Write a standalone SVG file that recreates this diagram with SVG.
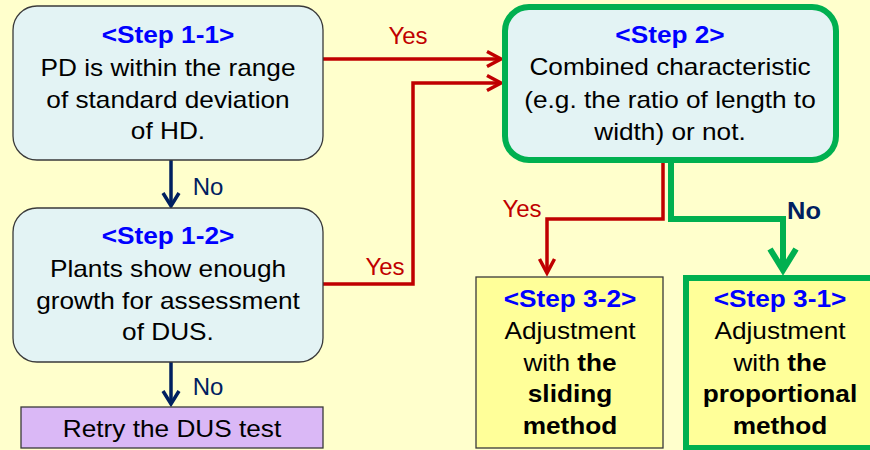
<svg xmlns="http://www.w3.org/2000/svg" width="870" height="450" viewBox="0 0 870 450">
  <defs>
    <style>
      .txt { font-family: "Liberation Sans", Arial, sans-serif; font-size: 23px; text-anchor: middle; fill: #000; }
      .step { font-weight: bold; fill: #0000FF; }
      .lbl { font-family: "Liberation Sans", Arial, sans-serif; font-size: 24px; text-anchor: middle; }
      .red { fill: #C00000; }
      .navy { fill: #002060; }
      .round { fill: #E3F3F4; stroke: #3A3A3A; stroke-width: 1.3; }
      .sq { fill: #FFFF99; stroke: #3A3A3A; stroke-width: 1.3; }
      .hi { stroke: #00B050; stroke-width: 6; }
      .c-red { fill: none; stroke: #C00000; stroke-width: 3.5; stroke-linejoin: miter; }
      .c-navy { fill: none; stroke: #002060; stroke-width: 3.5; }
      .c-green { fill: none; stroke: #00B050; stroke-width: 6; stroke-linejoin: miter; }
    </style>
    <marker id="ah-red" markerUnits="userSpaceOnUse" orient="auto" overflow="visible" refX="0" refY="0" markerWidth="20" markerHeight="20">
      <path d="M-14,-7.5 L0,0 L-14,7.5" fill="none" stroke="#C00000" stroke-width="3.5"/>
    </marker>
    <marker id="ah-navy" markerUnits="userSpaceOnUse" orient="auto" overflow="visible" refX="0" refY="0" markerWidth="20" markerHeight="20">
      <path d="M-13,-8 L0,0 L-13,8" fill="none" stroke="#002060" stroke-width="3.5"/>
    </marker>
    <marker id="ah-green" markerUnits="userSpaceOnUse" orient="auto" overflow="visible" refX="0" refY="0" markerWidth="30" markerHeight="30">
      <path d="M-21,-13 L0,0 L-21,13" fill="none" stroke="#00B050" stroke-width="6"/>
    </marker>
  </defs>

  <!-- slide background -->
  <rect x="0" y="0" width="870" height="450" fill="#FFFFCC"/>

  <!-- connectors -->
  <g id="connectors">
    <path class="c-navy" d="M171,160 V206" marker-end="url(#ah-navy)"/>
    <path class="c-navy" d="M171,362 V404" marker-end="url(#ah-navy)"/>
    <path class="c-red" d="M323,59 H501" marker-end="url(#ah-red)"/>
    <path class="c-red" d="M323,284 H413 V83 H501" marker-end="url(#ah-red)"/>
    <path class="c-red" d="M663,160 V219 H547 V273" marker-end="url(#ah-red)"/>
    <path class="c-green" d="M671,160 V219 H783 V270" marker-end="url(#ah-green)"/>

    <text class="lbl navy" x="208" y="195">No</text>
    <text class="lbl navy" x="208" y="395">No</text>
    <text class="lbl red" x="408" y="44">Yes</text>
    <text class="lbl red" x="385" y="275">Yes</text>
    <text class="lbl red" x="522" y="217">Yes</text>
    <g transform="translate(804,0) scale(1.06,1)"><text class="lbl navy" x="0" y="219" font-weight="bold">No</text></g>
  </g>

  <!-- Step 1-1 -->
  <g id="step1-1">
    <rect class="round" x="13" y="6" width="310" height="154" rx="24"/>
    <g transform="translate(168,0) scale(1.14,1)">
      <text class="txt step" x="0" y="43">&lt;Step 1-1&gt;</text>
      <text class="txt" x="0" y="76">PD is within the range</text>
      <text class="txt" x="0" y="108">of standard deviation</text>
      <text class="txt" x="0" y="139">of HD.</text>
    </g>
  </g>

  <!-- Step 1-2 -->
  <g id="step1-2">
    <rect class="round" x="13" y="208" width="310" height="154" rx="24"/>
    <g transform="translate(168,0) scale(1.14,1)">
      <text class="txt step" x="0" y="244">&lt;Step 1-2&gt;</text>
      <text class="txt" x="0" y="277">Plants show enough</text>
      <text class="txt" x="0" y="309">growth for assessment</text>
      <text class="txt" x="0" y="340">of DUS.</text>
    </g>
  </g>

  <!-- Retry -->
  <g id="retry">
    <rect x="21" y="407" width="302" height="41" fill="#DAB8F6" stroke="#3A3A3A" stroke-width="1.3"/>
    <g transform="translate(172,0) scale(1.14,1)">
      <text class="txt" x="0" y="437">Retry the DUS test</text>
    </g>
  </g>

  <!-- Step 2 -->
  <g id="step2">
    <rect class="round hi" x="505" y="7" width="331" height="153" rx="24"/>
    <g transform="translate(670,0) scale(1.14,1)">
      <text class="txt step" x="0" y="43">&lt;Step 2&gt;</text>
      <text class="txt" x="0" y="75">Combined characteristic</text>
      <text class="txt" x="0" y="108">(e.g. the ratio of length to</text>
      <text class="txt" x="0" y="140">width) or not.</text>
    </g>
  </g>

  <!-- Step 3-2 -->
  <g id="step3-2">
    <rect class="sq" x="476" y="277" width="187" height="171"/>
    <g transform="translate(570,0) scale(1.14,1)">
      <text class="txt step" x="0" y="307">&lt;Step 3-2&gt;</text>
      <text class="txt" x="0" y="339">Adjustment</text>
      <text class="txt" x="0" y="371">with <tspan font-weight="bold">the</tspan></text>
      <text class="txt" x="0" y="402" font-weight="bold">sliding</text>
      <text class="txt" x="0" y="434" font-weight="bold">method</text>
    </g>
  </g>

  <!-- Step 3-1 -->
  <g id="step3-1">
    <rect class="sq hi" x="686" y="278" width="190" height="170"/>
    <g transform="translate(780,0) scale(1.14,1)">
      <text class="txt step" x="0" y="307">&lt;Step 3-1&gt;</text>
      <text class="txt" x="0" y="339">Adjustment</text>
      <text class="txt" x="0" y="371">with <tspan font-weight="bold">the</tspan></text>
      <text class="txt" x="0" y="402" font-weight="bold">proportional</text>
      <text class="txt" x="0" y="434" font-weight="bold">method</text>
    </g>
  </g>
</svg>
